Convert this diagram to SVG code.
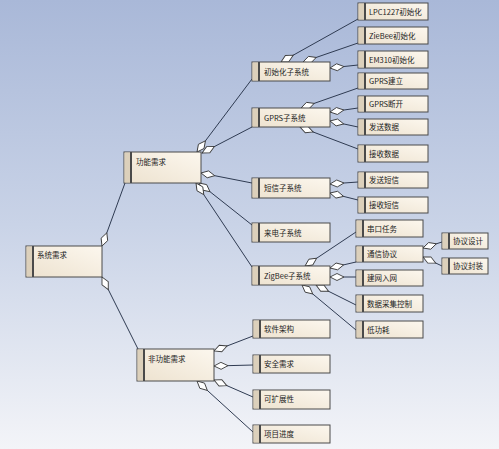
<svg xmlns="http://www.w3.org/2000/svg" width="499" height="449" viewBox="0 0 499 449">
<defs>
<linearGradient id="bg" x1="0" y1="0" x2="0" y2="1">
<stop offset="0" stop-color="#a9b8d8"/>
<stop offset="0.5" stop-color="#c9d3e7"/>
<stop offset="1" stop-color="#f3f4f8"/>
</linearGradient>
<linearGradient id="box" x1="0" y1="1" x2="1" y2="0">
<stop offset="0" stop-color="#ede2cf"/>
<stop offset="1" stop-color="#fcf7ee"/>
</linearGradient>
<marker id="dia" markerUnits="userSpaceOnUse" markerWidth="16" markerHeight="10" viewBox="0 -5 16 10" refX="0" refY="0" orient="auto" overflow="visible">
<path d="M0,0 L7,-3.5 L14,0 L7,3.5 Z" fill="#ffffff" stroke="#3d3d3d" stroke-width="0.9"/>
</marker>
<style>
.b{fill:url(#box);stroke:#4a4a4a;stroke-width:1}
.s{fill:#dcd0bb;stroke:none}
.d{stroke:#4a4a4a;stroke-width:2}
.t{font-family:"Noto Sans CJK SC","Liberation Sans",sans-serif;font-size:7.5px;fill:#222}
.c line{stroke:#2f3b52;stroke-width:1;marker-start:url(#dia)}
</style>
</defs>
<rect x="0" y="0" width="499" height="449" fill="url(#bg)"/>
<g class="c" id="connectors">
<line x1="102" y1="246" x2="125" y2="183"/>
<line x1="102" y1="277" x2="138" y2="349"/>
<line x1="197" y1="152" x2="252" y2="79"/>
<line x1="202" y1="153" x2="252" y2="127"/>
<line x1="201" y1="173" x2="252" y2="183"/>
<line x1="199" y1="183" x2="252" y2="225"/>
<line x1="196" y1="183" x2="252" y2="267"/>
<line x1="281" y1="62" x2="358" y2="19"/>
<line x1="303" y1="62" x2="358" y2="43"/>
<line x1="330" y1="68" x2="358" y2="65"/>
<line x1="301" y1="108" x2="358" y2="88"/>
<line x1="330" y1="112" x2="358" y2="108"/>
<line x1="330" y1="121" x2="358" y2="127"/>
<line x1="300" y1="127" x2="358" y2="149"/>
<line x1="330" y1="184" x2="358" y2="182"/>
<line x1="330" y1="193" x2="358" y2="200"/>
<line x1="305" y1="266" x2="356" y2="232"/>
<line x1="330" y1="268" x2="356" y2="262"/>
<line x1="330" y1="277" x2="356" y2="277"/>
<line x1="316" y1="285" x2="356" y2="305"/>
<line x1="302" y1="285" x2="356" y2="330"/>
<line x1="423" y1="248" x2="442" y2="242"/>
<line x1="423" y1="257" x2="442" y2="266"/>
<line x1="214" y1="351" x2="253" y2="336"/>
<line x1="214" y1="366" x2="253" y2="365"/>
<line x1="214" y1="380" x2="253" y2="397"/>
<line x1="197" y1="381" x2="253" y2="432"/>
</g>
<g id="n1"><rect class="b" x="26" y="246" width="76" height="31"/><rect class="s" x="26.5" y="246.5" width="6" height="30"/><line class="d" x1="33" y1="246" x2="33" y2="277"/><text class="t" x="37" y="258">系统需求</text></g>
<g id="n2"><rect class="b" x="124" y="152" width="77" height="31"/><rect class="s" x="124.5" y="152.5" width="6" height="30"/><line class="d" x1="131" y1="152" x2="131" y2="183"/><text class="t" x="136" y="165">功能需求</text></g>
<g id="n3"><rect class="b" x="137" y="349" width="77" height="32"/><rect class="s" x="137.5" y="349.5" width="6" height="31"/><line class="d" x1="144" y1="349" x2="144" y2="381"/><text class="t" x="148" y="362">非功能需求</text></g>
<g id="n4"><rect class="b" x="252" y="62" width="78" height="19"/><rect class="s" x="252.5" y="62.5" width="6" height="18"/><line class="d" x1="259" y1="62" x2="259" y2="81"/><text class="t" x="264" y="74.5">初始化子系统</text></g>
<g id="n5"><rect class="b" x="252" y="108" width="78" height="19"/><rect class="s" x="252.5" y="108.5" width="6" height="18"/><line class="d" x1="259" y1="108" x2="259" y2="127"/><text class="t" x="264" y="120.5">GPRS子系统</text></g>
<g id="n6"><rect class="b" x="252" y="178" width="78" height="20"/><rect class="s" x="252.5" y="178.5" width="6" height="19"/><line class="d" x1="259" y1="178" x2="259" y2="198"/><text class="t" x="264" y="190.5">短信子系统</text></g>
<g id="n7"><rect class="b" x="252" y="223" width="78" height="19"/><rect class="s" x="252.5" y="223.5" width="6" height="18"/><line class="d" x1="259" y1="223" x2="259" y2="242"/><text class="t" x="264" y="235.5">来电子系统</text></g>
<g id="n8"><rect class="b" x="252" y="266" width="78" height="19"/><rect class="s" x="252.5" y="266.5" width="6" height="18"/><line class="d" x1="259" y1="266" x2="259" y2="285"/><text class="t" x="264" y="278.5">ZigBee子系统</text></g>
<g id="n9"><rect class="b" x="358" y="3" width="70" height="17"/><rect class="s" x="358.5" y="3.5" width="6" height="16"/><line class="d" x1="365" y1="3" x2="365" y2="20"/><text class="t" x="369" y="14.5">LPC1227初始化</text></g>
<g id="n10"><rect class="b" x="358" y="27" width="70" height="17"/><rect class="s" x="358.5" y="27.5" width="6" height="16"/><line class="d" x1="365" y1="27" x2="365" y2="44"/><text class="t" x="369" y="38.5">ZieBee初始化</text></g>
<g id="n11"><rect class="b" x="358" y="51" width="70" height="17"/><rect class="s" x="358.5" y="51.5" width="6" height="16"/><line class="d" x1="365" y1="51" x2="365" y2="68"/><text class="t" x="369" y="62.5">EM310初始化</text></g>
<g id="n12"><rect class="b" x="358" y="73" width="70" height="16"/><rect class="s" x="358.5" y="73.5" width="6" height="15"/><line class="d" x1="365" y1="73" x2="365" y2="89"/><text class="t" x="369" y="84">GPRS建立</text></g>
<g id="n13"><rect class="b" x="358" y="96" width="70" height="16"/><rect class="s" x="358.5" y="96.5" width="6" height="15"/><line class="d" x1="365" y1="96" x2="365" y2="112"/><text class="t" x="369" y="107">GPRS断开</text></g>
<g id="n14"><rect class="b" x="358" y="119" width="70" height="16"/><rect class="s" x="358.5" y="119.5" width="6" height="15"/><line class="d" x1="365" y1="119" x2="365" y2="135"/><text class="t" x="369" y="130">发送数据</text></g>
<g id="n15"><rect class="b" x="358" y="145" width="70" height="17"/><rect class="s" x="358.5" y="145.5" width="6" height="16"/><line class="d" x1="365" y1="145" x2="365" y2="162"/><text class="t" x="369" y="156.5">接收数据</text></g>
<g id="n16"><rect class="b" x="358" y="172" width="70" height="16"/><rect class="s" x="358.5" y="172.5" width="6" height="15"/><line class="d" x1="365" y1="172" x2="365" y2="188"/><text class="t" x="369" y="183">发送短信</text></g>
<g id="n17"><rect class="b" x="358" y="197" width="70" height="16"/><rect class="s" x="358.5" y="197.5" width="6" height="15"/><line class="d" x1="365" y1="197" x2="365" y2="213"/><text class="t" x="369" y="208">接收短信</text></g>
<g id="n18"><rect class="b" x="356" y="220" width="67" height="17"/><rect class="s" x="356.5" y="220.5" width="6" height="16"/><line class="d" x1="363" y1="220" x2="363" y2="237"/><text class="t" x="367" y="231.5">串口任务</text></g>
<g id="n19"><rect class="b" x="356" y="246" width="67" height="16"/><rect class="s" x="356.5" y="246.5" width="6" height="15"/><line class="d" x1="363" y1="246" x2="363" y2="262"/><text class="t" x="367" y="257">通信协议</text></g>
<g id="n20"><rect class="b" x="356" y="270" width="67" height="16"/><rect class="s" x="356.5" y="270.5" width="6" height="15"/><line class="d" x1="363" y1="270" x2="363" y2="286"/><text class="t" x="367" y="281">建网入网</text></g>
<g id="n21"><rect class="b" x="356" y="295" width="67" height="17"/><rect class="s" x="356.5" y="295.5" width="6" height="16"/><line class="d" x1="363" y1="295" x2="363" y2="312"/><text class="t" x="367" y="306.5">数据采集控制</text></g>
<g id="n22"><rect class="b" x="356" y="321" width="67" height="17"/><rect class="s" x="356.5" y="321.5" width="6" height="16"/><line class="d" x1="363" y1="321" x2="363" y2="338"/><text class="t" x="367" y="332.5">低功耗</text></g>
<g id="n23"><rect class="b" x="442" y="233" width="46" height="16"/><rect class="s" x="442.5" y="233.5" width="6" height="15"/><line class="d" x1="449" y1="233" x2="449" y2="249"/><text class="t" x="453" y="244">协议设计</text></g>
<g id="n24"><rect class="b" x="442" y="258" width="46" height="16"/><rect class="s" x="442.5" y="258.5" width="6" height="15"/><line class="d" x1="449" y1="258" x2="449" y2="274"/><text class="t" x="453" y="269">协议封装</text></g>
<g id="n25"><rect class="b" x="253" y="320" width="77" height="18"/><rect class="s" x="253.5" y="320.5" width="6" height="17"/><line class="d" x1="260" y1="320" x2="260" y2="338"/><text class="t" x="264" y="331.5">软件架构</text></g>
<g id="n26"><rect class="b" x="253" y="355" width="77" height="18"/><rect class="s" x="253.5" y="355.5" width="6" height="17"/><line class="d" x1="260" y1="355" x2="260" y2="373"/><text class="t" x="264" y="366.5">安全需求</text></g>
<g id="n27"><rect class="b" x="253" y="390" width="77" height="19"/><rect class="s" x="253.5" y="390.5" width="6" height="18"/><line class="d" x1="260" y1="390" x2="260" y2="409"/><text class="t" x="264" y="402">可扩展性</text></g>
<g id="n28"><rect class="b" x="253" y="425" width="77" height="18"/><rect class="s" x="253.5" y="425.5" width="6" height="17"/><line class="d" x1="260" y1="425" x2="260" y2="443"/><text class="t" x="264" y="436.5">项目进度</text></g>
</svg>
